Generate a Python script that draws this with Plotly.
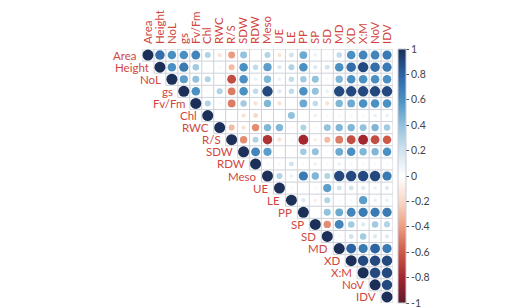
import plotly.graph_objects as go
import numpy as np

variables = ["Area", "Height", "NoL", "gs", "Fv/Fm", "Chl", "RWC", "R/S", "SDW", "RDW",
             "Meso", "UE", "LE", "PP", "SP", "SD", "MD", "XD", "X:M", "NoV", "IDV"]

# upper-triangle correlations, each row starts at its diagonal
r_Area   = [1, 0.75, 0.6, 0.6, 0.65, 0.3, -0.15, -0.4, 0.4, 0.02, 0.3, -0.15, 0.2, 0.5, 0.1, 0.03, 0.25, 0.6, 0.65, 0.65, 0.7]
r_Height = [1, 0.6, 0.7, 0.35, 0.05, 0.05, -0.3, 0.6, 0.25, 0.55, 0.15, 0.3, 0.6, 0.15, 0.2, 0.6, 0.75, 0.9, 0.75, 0.7]
r_NoL    = [1, 0.55, 0.4, 0.3, 0.03, -0.65, 0.6, 0.1, 0.45, 0.1, 0.25, 0.35, 0.4, 0.05, 0.45, 0.6, 0.6, 0.6, 0.6]
r_gs     = [1, 0.6, 0.05, 0.3, -0.5, 0.6, 0.25, 0.9, 0.15, 0.25, 0.6, 0.4, 0.1, 0.9, 0.9, 0.9, 0.9, 0.9]
r_FvFm   = [1, 0.3, 0.05, -0.5, 0.35, -0.15, 0.45, -0.15, 0.02, 0.5, 0.25, -0.15, 0.45, 0.5, 0.6, 0.6, 0.6]
r_Chl    = [1, 0.03, 0.03, -0.15, -0.2, 0.02, 0.02, 0.4, 0.02, 0.1, 0.05, 0.05, 0.05, 0.05, 0.1, 0.1]
r_RWC    = [1, -0.3, -0.15, -0.45, 0.45, 0.45, -0.05, 0.3, 0.05, 0.4, 0.45, 0.45, 0.4, 0.45, 0.35]
r_RS     = [1, -0.45, 0.3, -0.75, -0.15, 0.05, -0.8, -0.1, -0.3, -0.5, -0.65, -0.8, -0.65, -0.6]
r_SDW    = [1, 0.65, 0.55, 0.02, 0.02, 0.35, 0.4, 0.05, 0.5, 0.6, 0.45, 0.45, 0.6]
r_RDW    = [1, 0.05, 0.05, 0.2, 0.05, 0.1, 0.05, 0.1, 0.05, 0.05, 0.05, 0.05]
r_Meso   = [1, 0.3, 0.1, 0.7, 0.45, 0.3, 0.9, 0.9, 0.9, 0.9, 0.7]
r_UE     = [1, 0.05, 0.03, 0.05, 0.55, 0.2, 0.2, 0.15, 0.1, 0.15]
r_LE     = [1, 0.15, -0.1, 0.3, 0.05, 0.05, 0.55, 0.1, 0.1]
r_PP     = [1, 0.02, 0.4, 0.5, 0.65, 0.7, 0.7, 0.7]
r_SP     = [1, -0.45, 0.65, 0.35, 0.15, 0.35, 0.3]
r_SD     = [1, 0.05, 0.2, 0.35, 0.15, 0.15]
r_MD     = [1, 0.8, 0.7, 0.8, 0.7]
r_XD     = [1, 0.9, 0.9, 0.9]
r_XM     = [1, 0.9, 0.9]
r_NoV    = [1, 0.9]
r_IDV    = [1]

rows = [r_Area, r_Height, r_NoL, r_gs, r_FvFm, r_Chl, r_RWC, r_RS, r_SDW, r_RDW, r_Meso,
        r_UE, r_LE, r_PP, r_SP, r_SD, r_MD, r_XD, r_XM, r_NoV, r_IDV]

colorbar_ticks = [1, 0.8, 0.6, 0.4, 0.2, 0, -0.2, -0.4, -0.6, -0.8, -1]

n = len(variables)
xs, ys, vals = [], [], []
for i, row in enumerate(rows):
    for k, v in enumerate(row):
        xs.append(i + k)
        ys.append(i)
        vals.append(v)
vals = np.array(vals)

cell_px = 11.95
sizes = 0.92 * cell_px * np.sqrt(np.abs(vals))

colorscale = [
    [0.0, "#5e1a2a"], [0.1, "#a3262f"], [0.2, "#cc5a48"], [0.3, "#ec9d80"],
    [0.4, "#f8d8c8"], [0.5, "#ffffff"], [0.6, "#d1e3ef"], [0.7, "#92c2dc"],
    [0.8, "#4a90c2"], [0.9, "#2c63a3"], [1.0, "#1c2f58"],
]

# grid lines of the upper triangle
gx, gy = [], []
for b in range(n + 1):
    x0 = max(b - 1, 0) - 0.5
    gx += [x0, n - 0.5, None]
    gy += [b - 0.5, b - 0.5, None]
for b in range(n + 1):
    y1 = min(b, n - 1) + 0.5
    gx += [b - 0.5, b - 0.5, None]
    gy += [-0.5, y1, None]

label_font = dict(family="Lato", size=11.5, color="#d1473e")

fig = go.Figure()
fig.add_trace(go.Scatter(x=gx, y=gy, mode="lines",
                         line=dict(color="#cfd2da", width=1),
                         hoverinfo="skip", showlegend=False))
fig.add_trace(go.Scatter(
    x=xs, y=ys, mode="markers", showlegend=False, opacity=1,
    marker=dict(size=sizes, sizemode="diameter", color=vals, cmin=-1, cmax=1,
                opacity=1, colorscale=colorscale, line=dict(width=0),
                colorbar=dict(
                    x=390 / 528, xanchor="left", xpad=0, ypad=0,
                    y=1 - 295 / 308, yanchor="bottom",
                    len=254 / 308, lenmode="fraction", thickness=8,
                    outlinewidth=1, outlinecolor="#c8ccd6",
                    tickvals=colorbar_ticks, ticktext=[str(t) for t in colorbar_ticks],
                    ticks="outside", ticklen=3, tickcolor="#555",
                    tickfont=dict(family="Lato", size=10.5, color="#444"),
                ),
                showscale=True),
))

for i, name in enumerate(variables):
    fig.add_annotation(x=i - 0.5, y=i, text=name, showarrow=False,
                       xanchor="right", yanchor="middle", xshift=-3,
                       font=label_font)

fig.update_layout(
    width=528, height=308, margin=dict(l=0, r=0, t=0, b=0),
    paper_bgcolor="white", plot_bgcolor="white",
    xaxis=dict(domain=[134 / 528, 385 / 528], range=[-0.5, n - 0.5], side="top",
               tickvals=list(range(n)), ticktext=variables, tickangle=-90,
               showgrid=False, zeroline=False, showline=False, ticks="",
               ticklabelstandoff=4, tickfont=label_font),
    yaxis=dict(domain=[1 - 295 / 308, 1 - 41 / 308], range=[n - 0.5, -0.5],
               showgrid=False, zeroline=False, showline=False,
               showticklabels=False, ticks=""),
)

fig.write_html("out.html")
